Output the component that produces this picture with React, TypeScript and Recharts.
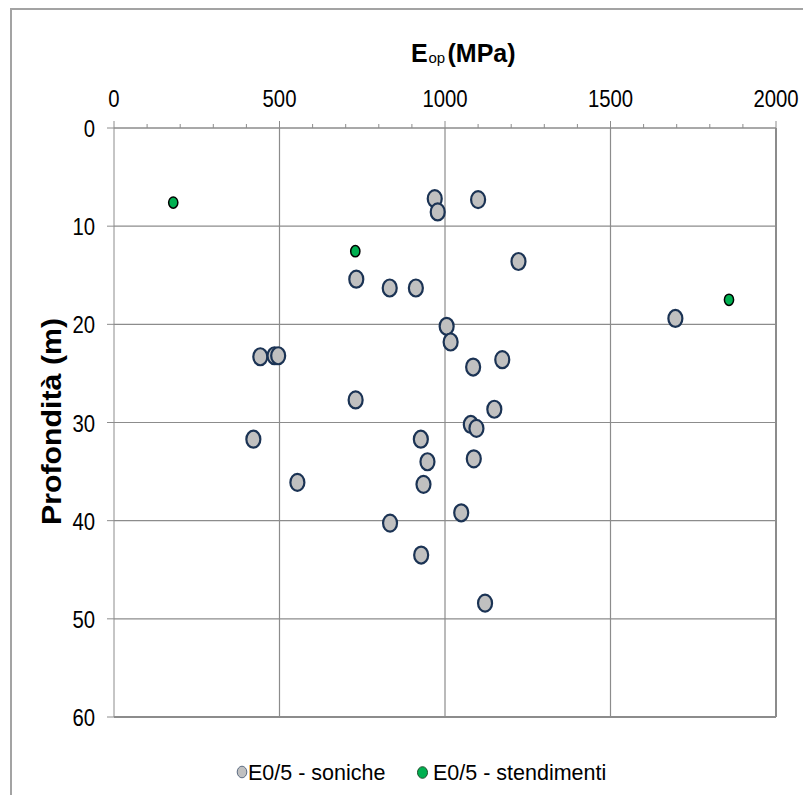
import { ScatterChart, Scatter, XAxis, YAxis, CartesianGrid, ReferenceLine, Legend } from 'recharts';

// E0/5 values (MPa) and depths (m)
const sonicheE = [969, 978, 1100, 1222, 732, 833, 912, 1696, 1005, 1017, 442, 485, 496, 1173, 1085, 730, 1149, 1078, 1095, 421, 927, 1087, 947, 554, 935, 1049, 834, 928, 1121];
const sonicheDepth = [7.2, 8.55, 7.3, 13.6, 15.4, 16.3, 16.3, 19.4, 20.2, 21.8, 23.3, 23.2, 23.2, 23.6, 24.35, 27.7, 28.65, 30.2, 30.6, 31.7, 31.7, 33.7, 34.0, 36.1, 36.3, 39.2, 40.25, 43.5, 48.4];
const stendimentiE = [179, 729, 1858];
const stendimentiDepth = [7.6, 12.55, 17.5];

const xTicks = [0, 100, 200, 300, 400, 500, 600, 700, 800, 900, 1000, 1100, 1200, 1300, 1400, 1500, 1600, 1700, 1800, 1900, 2000];
const xMajorTicks = [0, 500, 1000, 1500, 2000];
const xGridValues = [500, 1000, 1500];
const yTicks = [0, 10, 20, 30, 40, 50, 60];

const SONICHE = 'E0/5 - soniche';
const STENDIMENTI = 'E0/5 - stendimenti';

const soniche = sonicheE.map((e, i) => ({ e, depth: sonicheDepth[i] }));
const stendimenti = stendimentiE.map((e, i) => ({ e, depth: stendimentiDepth[i] }));

const FONT = "Arial, 'Liberation Sans', sans-serif";
const AXIS = '#8c8c8c';
const DIGIT_W = 11.3;
const W = 795;
const H = 785;

function XTick(props: any) {
  const { x, y, payload } = props;
  const v = payload.value;
  const major = xMajorTicks.includes(v);
  return (
    <g>
      <line x1={x} y1={y} x2={x} y2={y - (major ? 7 : 4)} stroke={AXIS} />
      {major && (
        <text x={x} y={y - 21} textAnchor="middle" fontSize={24} fontFamily={FONT} fill="#000"
          textLength={String(v).length * DIGIT_W} lengthAdjust="spacingAndGlyphs">
          {v}
        </text>
      )}
    </g>
  );
}

function YTick(props: any) {
  const { x, y, payload } = props;
  const s = String(payload.value);
  return (
    <text x={x} y={y + 9} textAnchor="end" fontSize={24} fontFamily={FONT} fill="#000"
      textLength={s.length * DIGIT_W} lengthAdjust="spacingAndGlyphs">
      {s}
    </text>
  );
}

const XTitle = () => (
  <g fontFamily={FONT} fill="#000">
    <text x={399} y={52} fontSize={25} fontWeight="bold">E</text>
    <text x={416.5} y={53} fontSize={15}>op</text>
    <text x={435.5} y={52} fontSize={25} fontWeight="bold">(MPa)</text>
  </g>
);

const YTitle = () => (
  <text transform="translate(49, 411.5) rotate(-90)" textAnchor="middle" fontSize={27} fontWeight="bold"
    fontFamily={FONT} fill="#000" textLength={207} lengthAdjust="spacingAndGlyphs">
    Profondità (m)
  </text>
);

const GrayDot = (p: any) => (
  <ellipse cx={p.cx} cy={p.cy} rx={7} ry={8.5} fill="#c0c0c0" stroke="#1b3354" strokeWidth={2.2} />
);

const GreenDot = (p: any) => (
  <ellipse cx={p.cx} cy={p.cy} rx={4.6} ry={5.6} fill="#00b050" stroke="#000" strokeWidth={1.5} />
);

const LegendBox = () => (
  <svg width={W} height={30} style={{ display: 'block' }} fontFamily={FONT}>
    <ellipse cx={230} cy={12} rx={4.8} ry={5.8} fill="#c0c0c0" stroke="#5b6b82" strokeWidth={1} />
    <text x={236} y={19.5} fontSize={21.5} fill="#000">{SONICHE}</text>
    <ellipse cx={410.5} cy={12.5} rx={5} ry={5.8} fill="#00b050" stroke="#1d4d2a" strokeWidth={1} />
    <text x={421} y={19.5} fontSize={21.5} fill="#000">{STENDIMENTI}</text>
  </svg>
);

export default function App() {
  return (
    <div style={{ marginLeft: 2, width: W, height: H, borderTop: '2px solid #a3a3a3', borderLeft: '2px solid #a3a3a3', background: '#fff' }}>
      <ScatterChart width={W} height={H} margin={{ top: 78, right: 31, left: 42, bottom: 48 }}>
        <CartesianGrid vertical={false} stroke={AXIS} strokeWidth={1.2} />
        <XAxis
          type="number"
          dataKey="e"
          orientation="top"
          domain={[0, 2000]}
          ticks={xTicks}
          interval={0}
          height={40}
          tick={<XTick />}
          tickLine={false}
          tickSize={0}
          tickMargin={0}
          axisLine={{ stroke: AXIS }}
          label={{ content: () => <XTitle /> }}
        />
        <YAxis
          type="number"
          dataKey="depth"
          domain={[0, 60]}
          reversed
          ticks={yTicks}
          interval={0}
          width={60}
          tick={<YTick />}
          tickSize={7}
          tickMargin={12}
          tickLine={{ stroke: AXIS }}
          axisLine={{ stroke: AXIS }}
          label={{ content: () => <YTitle /> }}
        />
        {xGridValues.map((v) => (
          <ReferenceLine key={v} x={v} stroke={AXIS} strokeWidth={1.2} />
        ))}
        <ReferenceLine x={2000} stroke={AXIS} strokeWidth={2} />
        <ReferenceLine y={60} stroke={AXIS} strokeWidth={2} />
        <Legend content={() => <LegendBox />} wrapperStyle={{ top: 750, left: 0, width: W, height: 30 }} />
        <Scatter name={SONICHE} data={soniche} shape={GrayDot} isAnimationActive={false} />
        <Scatter name={STENDIMENTI} data={stendimenti} shape={GreenDot} isAnimationActive={false} />
      </ScatterChart>
    </div>
  );
}
